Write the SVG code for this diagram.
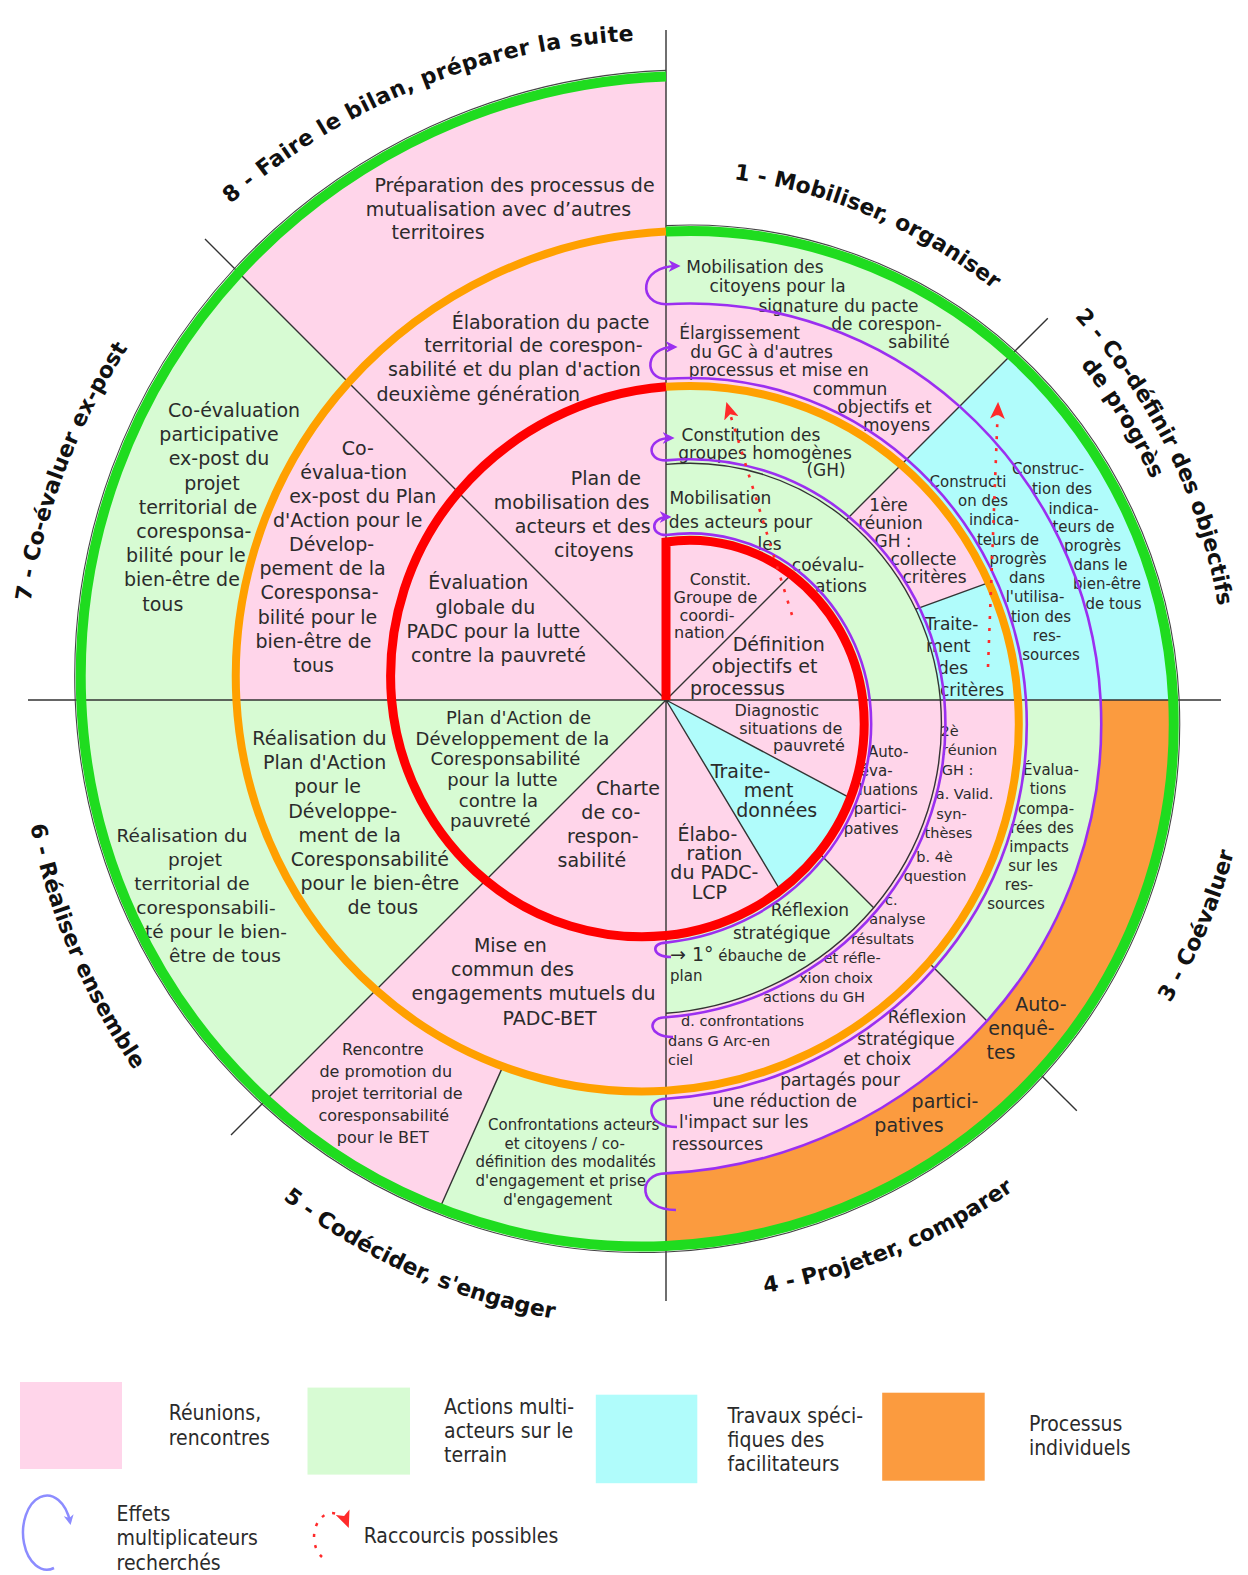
<svg xmlns="http://www.w3.org/2000/svg" width="1248" height="1575" viewBox="0 0 1248 1575">
<style>
.pk{fill:#ffd5ea}.gr{fill:#d7fbd3}.cy{fill:#b0fcfb}.or{fill:#fb9b3f}
.ln{stroke:#333;stroke-width:1.4;fill:none}
.pu{stroke:#9b2ff0;stroke-width:2.6;fill:none}
.rd{stroke:#ff2a2a;stroke-width:2.6;fill:none;stroke-dasharray:3 9}
text{font-family:"DejaVu Sans","Noto Sans",sans-serif;fill:#2b2b2b;text-anchor:middle}
.s19{font-size:19px}.s185{font-size:18.5px}.s18{font-size:18px}.s17{font-size:17px}.s16{font-size:16px}.s15{font-size:15px}.s14{font-size:14.5px}
.st{text-anchor:start}
.lab{font-weight:bold;font-size:22px;fill:#111}
.lg{font-family:"DejaVu Sans Condensed","DejaVu Sans",sans-serif;font-stretch:condensed;font-size:21px;text-anchor:start}
</style>
<defs>
<marker id="pa" viewBox="0 0 10 10" refX="7" refY="5" markerWidth="12" markerHeight="12" markerUnits="userSpaceOnUse" orient="auto"><path d="M0,0 L10,5 L0,10 L3,5 Z" fill="#9b2ff0"/></marker>
<marker id="ra" viewBox="0 0 16 14" refX="14" refY="7" markerWidth="17" markerHeight="15" markerUnits="userSpaceOnUse" orient="auto"><path d="M0,0 L16,7 L0,14 L4,7 Z" fill="#ff2a2a"/></marker>
<marker id="ba" viewBox="0 0 10 10" refX="7" refY="5" markerWidth="10" markerHeight="10" markerUnits="userSpaceOnUse" orient="auto"><path d="M0,0 L10,5 L0,10 L3,5 Z" fill="#8c8cff"/></marker>
<path id="lp8" d="M83.3 390.1 A660 660 0 0 1 869.9 72.3"/>
<path id="lp1" d="M512.5 197.9 A525 525 0 0 1 1133.8 461.6"/>
<path id="lp2a" d="M890.2 186.8 A560 560 0 0 1 1210.3 831.7"/>
<path id="lp2b" d="M833.4 194 A533 533 0 0 1 1193.4 777"/>
<path id="lp3" d="M932.9 1223.9 A588 588 0 0 0 1228.3 528.1"/>
<path id="lp4" d="M484.3 1272.9 A601 601 0 0 0 1198.6 978.4"/>
<path id="lp5" d="M101.2 976.7 A629 629 0 0 0 840.4 1304.3"/>
<path id="lp6" d="M46.3 510.5 A648 648 0 0 0 371.8 1277.4"/>
<path id="lp7" d="M58 909.4 A643 643 0 0 1 354.3 137.6"/>
</defs>
<rect width="1248" height="1575" fill="#fff"/>

<!-- ===== Band 0 ===== -->
<g id="n-plan-mobilisation">
<path class="pk" d="M666 700 L666 542 A167.7 167.7 0 0 1 791.4 574.6 A187.1 187.1 0 0 1 862.8 700 A206.5 206.5 0 0 1 818.9 852.9 A225.9 225.9 0 0 1 666 935.6 A245.3 245.3 0 0 1 485.7 880.3 A264.7 264.7 0 0 1 391.6 700 A284.1 284.1 0 0 1 458.3 492.3 A303.5 303.5 0 0 1 666 386.8 Z"/>
<text class="s19"><tspan x="605.9" y="484.9">Plan de</tspan><tspan x="571.7" y="509">mobilisation des</tspan><tspan x="582.8" y="533.1">acteurs et des</tspan><tspan x="593.8" y="557.2">citoyens</tspan></text>
</g>
<g id="n-evaluation-globale">
<text class="s19"><tspan x="478.3" y="589.4">Évaluation</tspan><tspan x="485.3" y="613.5">globale du</tspan><tspan x="493.4" y="637.6">PADC pour la lutte</tspan><tspan x="498.4" y="661.7">contre la pauvreté</tspan></text>
</g>
<g id="n-plan-action-padc">
<path class="gr" d="M666 700 L485.7 880.3 A264.7 264.7 0 0 1 391.6 700 Z"/>
<text class="s18"><tspan x="518.5" y="724.4">Plan d'Action de</tspan><tspan x="512.4" y="744.5">Développement de la</tspan><tspan x="505.4" y="764.6">Coresponsabilité</tspan><tspan x="502.4" y="785.7">pour la lutte</tspan><tspan x="498.4" y="806.8">contre la</tspan><tspan x="490.3" y="827">pauvreté</tspan></text>
</g>
<g id="n-charte">
<text class="s19"><tspan x="628" y="794.8">Charte</tspan><tspan x="610.9" y="818.5">de co-</tspan><tspan x="602.9" y="843">respon-</tspan><tspan x="591.8" y="867.1">sabilité</tspan></text>
</g>
<g id="n-constit-gc">
<text class="s16"><tspan x="720.4" y="584.6">Constit.</tspan><tspan x="715.4" y="602.7">Groupe de</tspan><tspan x="707" y="620.9">coordi-</tspan><tspan x="699.3" y="638">nation</tspan></text>
</g>
<g id="n-definition">
<text class="s19"><tspan x="778.7" y="650.7">Définition</tspan><tspan x="764.6" y="672.9">objectifs et</tspan><tspan x="737.5" y="695">processus</tspan></text>
</g>
<g id="n-diagnostic">
<text class="s16"><tspan x="776.7" y="716.4">Diagnostic</tspan><tspan x="790.8" y="733.5">situations de</tspan><tspan x="808.9" y="750.5">pauvreté</tspan></text>
</g>
<g id="n-traitement-donnees">
<path class="cy" d="M666 700 L850.4 798.1 A216 216 0 0 1 780.4 890.5 Z"/>
<text class="s19"><tspan x="740.5" y="777.7">Traite-</tspan><tspan x="768.7" y="796.8">ment</tspan><tspan x="776.7" y="816.9">données</tspan></text>
</g>
<g id="n-elaboration-padc">
<text class="s19"><tspan x="707.4" y="840.6">Élabo-</tspan><tspan x="714.4" y="859.7">ration</tspan><tspan x="714.4" y="878.8">du PADC-</tspan><tspan x="709.4" y="898.9">LCP</tspan></text>
</g>

<!-- ===== Band 1 ===== -->
<g id="n-mob-acteurs">
<path class="gr" d="M666 542 A167.7 167.7 0 0 1 791.4 574.6 A187.1 187.1 0 0 1 862.8 700 L940.4 700 A264.7 264.7 0 0 0 846.3 519.7 A245.3 245.3 0 0 0 666 464.4 Z"/>
<text class="s17"><tspan x="720.4" y="504.4">Mobilisation</tspan><tspan x="740.5" y="527.5">des acteurs pour</tspan><tspan x="769.5" y="549.6">les</tspan><tspan x="828" y="570.7">coévalu-</tspan><tspan x="841" y="591.8">ations</tspan></text>
</g>
<g id="n-auto-evaluations">
<path class="pk" d="M862.8 700 A206.5 206.5 0 0 1 818.9 852.9 L873.7 907.7 A284.1 284.1 0 0 0 940.4 700 Z"/>
<text class="s15"><tspan x="888.2" y="756.6">Auto-</tspan><tspan x="876.2" y="775.7">éva-</tspan><tspan x="888.2" y="795">luations</tspan><tspan x="880.2" y="814">partici-</tspan><tspan x="871.2" y="834">patives</tspan></text>
</g>
<g id="n-reflexion-1">
<path class="gr" d="M818.9 852.9 A225.9 225.9 0 0 1 666 935.6 L666 1013.2 A303.5 303.5 0 0 0 873.7 907.7 Z"/>
<text class="s17"><tspan x="809.9" y="916.3">Réflexion</tspan><tspan x="781.7" y="939.4">stratégique</tspan></text>
<text class="st"><tspan x="670" y="960.5" font-size="19">→ 1°</tspan><tspan font-size="15"> ébauche de</tspan><tspan x="670" y="980.6" font-size="15">plan</tspan></text>
</g>
<g id="n-constitution-gh">
<path class="gr" d="M666 464.4 A245.3 245.3 0 0 1 846.3 519.7 L901.2 464.8 A322.9 322.9 0 0 0 666 386.8 Z"/>
<text class="s17"><tspan x="751" y="441.1">Constitution des</tspan><tspan x="765" y="458.5">groupes homogènes</tspan><tspan x="826" y="476.2">(GH)</tspan></text>
</g>
<g id="n-1ere-reunion">
<path class="pk" d="M846.3 519.7 A264.7 264.7 0 0 1 940.4 700 L1018 700 A342.3 342.3 0 0 0 901.2 464.8 Z"/>
<text class="s17"><tspan x="888.5" y="511">1ère</tspan><tspan x="890.5" y="529">réunion</tspan><tspan x="893" y="546.5">GH :</tspan><tspan x="923.5" y="564.5">collecte</tspan><tspan x="934.5" y="582.8">critères</tspan></text>
</g>
<g id="n-traitement-criteres">
<path class="cy" d="M915.8 609.1 A270 270 0 0 1 940.4 700 L1018 700 A343 343 0 0 0 988.7 582.6 Z"/>
<text class="s17 st"><tspan x="925" y="630">Traite-</tspan><tspan x="926" y="652">ment</tspan><tspan x="938" y="674.2">des</tspan><tspan x="940" y="696.3">critères</tspan></text>
</g>
<g id="n-2e-reunion">
<path class="pk" d="M940.4 700 A284.1 284.1 0 0 1 873.7 907.7 A303.5 303.5 0 0 1 666 1013.2 L666 1090.8 A381.1 381.1 0 0 0 928.6 962.6 A361.7 361.7 0 0 0 1018 700 Z"/>
<text class="s14"><tspan x="949.5" y="735.5">2è</tspan><tspan x="969.6" y="754.6">réunion</tspan><tspan x="957.6" y="774.7">GH :</tspan><tspan x="964.6" y="798.8">a. Valid.</tspan><tspan x="951.5" y="818.9">syn-</tspan><tspan x="948.5" y="838">thèses</tspan><tspan x="934.5" y="862.1">b. 4è</tspan><tspan x="935" y="881.2">question</tspan><tspan x="891.3" y="905.3">c.</tspan><tspan x="897.3" y="924.4">analyse</tspan><tspan x="882.5" y="943.5">résultats</tspan><tspan x="852.1" y="962.6">et réfle-</tspan><tspan x="836" y="982.7">xion choix</tspan><tspan x="813.9" y="1001.8">actions du GH</tspan></text>
<text class="s14 st"><tspan x="681" y="1025.9">d. confrontations</tspan><tspan x="668" y="1046">dans G Arc-en</tspan><tspan x="668" y="1065.1">ciel</tspan></text>
</g>
<g id="n-mise-en-commun">
<path class="pk" d="M666 935.6 A245.3 245.3 0 0 1 485.7 880.3 L375.9 990.1 A400.5 400.5 0 0 0 666 1090.8 Z"/>
<text class="s19"><tspan x="510.4" y="952.1">Mise en</tspan><tspan x="512.4" y="976.3">commun des</tspan><tspan x="533.5" y="1000.4">engagements mutuels du</tspan><tspan x="549.6" y="1024.5">PADC-BET</tspan></text>
</g>
<g id="n-realisation-plan">
<path class="gr" d="M485.7 880.3 A264.7 264.7 0 0 1 391.6 700 L236.4 700 A419.9 419.9 0 0 0 375.9 990.1 Z"/>
<text class="s19"><tspan x="319.5" y="745.1">Réalisation du</tspan><tspan x="324.6" y="769.2">Plan d'Action</tspan><tspan x="327.6" y="793.4">pour le</tspan><tspan x="342.6" y="817.5">Développe-</tspan><tspan x="349.7" y="841.6">ment de la</tspan><tspan x="369.8" y="865.7">Coresponsabilité</tspan><tspan x="379.8" y="889.8">pour le bien-être</tspan><tspan x="382.8" y="914">de tous</tspan></text>
</g>
<g id="n-coevaluation-plan">
<path class="pk" d="M391.6 700 A284.1 284.1 0 0 1 458.3 492.3 A303.5 303.5 0 0 1 666 386.8 L666 231.6 A458.7 458.7 0 0 0 348.5 382.5 A439.3 439.3 0 0 0 236.4 700 Z"/>
<text class="s19"><tspan x="357.7" y="454.7">Co-</tspan><tspan x="353.7" y="478.9">évalua-tion</tspan><tspan x="362.7" y="503">ex-post du Plan</tspan><tspan x="347.7" y="527.1">d'Action pour le</tspan><tspan x="331.6" y="551.2">Dévelop-</tspan><tspan x="322.5" y="575.3">pement de la</tspan><tspan x="319.5" y="599.4">Coresponsa-</tspan><tspan x="317.5" y="623.5">bilité pour le</tspan><tspan x="313.5" y="647.7">bien-être de</tspan><tspan x="313.5" y="671.8">tous</tspan></text>
</g>
<g id="n-elaboration-pacte">
<text class="s19"><tspan x="550.6" y="329.1">Élaboration du pacte</tspan><tspan x="533.5" y="352.3">territorial de corespon-</tspan><tspan x="514.5" y="376.4">sabilité et du plan d'action</tspan><tspan x="478.3" y="400.5">deuxième génération</tspan></text>
</g>

<!-- ===== Band 2 ===== -->
<g id="n-elargissement">
<path class="pk" d="M666 386.8 A322.9 322.9 0 0 1 901.2 464.8 L959.6 406.4 A405.5 405.5 0 0 0 666 304.2 Z"/>
<text class="s17"><tspan x="739.5" y="338.6">Élargissement</tspan><tspan x="761.6" y="357.7">du GC à d'autres</tspan><tspan x="778.7" y="375.8">processus et mise en</tspan><tspan x="850" y="394.9">commun</tspan><tspan x="884.5" y="413">objectifs et</tspan><tspan x="896.5" y="431">moyens</tspan></text>
</g>
<g id="n-indicateurs-ressources">
<path class="cy" d="M901.2 464.8 A342.3 342.3 0 0 1 1018 700 L1100.6 700 A424.9 424.9 0 0 0 959.6 406.4 Z"/>
<text class="s15"><tspan x="968" y="486.8">Constructi</tspan><tspan x="983" y="506">on des</tspan><tspan x="994" y="525">indica-</tspan><tspan x="1008" y="544.5">teurs de</tspan><tspan x="1018" y="563.5">progrès</tspan><tspan x="1027" y="583">dans</tspan><tspan x="1035" y="602">l'utilisa-</tspan><tspan x="1041" y="621.5">tion des</tspan><tspan x="1047" y="640.8">res-</tspan><tspan x="1051" y="660.2">sources</tspan></text>
</g>
<g id="n-evaluations-comparees">
<path class="gr" d="M1018 700 A361.7 361.7 0 0 1 928.6 962.6 L987 1021 A444.3 444.3 0 0 0 1100.6 700 Z"/>
<text class="s15"><tspan x="1051" y="774.7">Évalua-</tspan><tspan x="1048" y="793.8">tions</tspan><tspan x="1046" y="813.9">compa-</tspan><tspan x="1042" y="833">rées des</tspan><tspan x="1039" y="852">impacts</tspan><tspan x="1033" y="871.1">sur les</tspan><tspan x="1019" y="890.2">res-</tspan><tspan x="1016" y="909.3">sources</tspan></text>
</g>
<g id="n-reflexion-2">
<path class="pk" d="M928.6 962.6 A381.1 381.1 0 0 1 666 1090.8 L666 1173.4 A463.7 463.7 0 0 0 987 1021 Z"/>
<text class="s17"><tspan x="927" y="1023.4">Réflexion</tspan><tspan x="906" y="1044.5">stratégique</tspan><tspan x="877.2" y="1065.1">et choix</tspan><tspan x="840" y="1086.2">partagés pour</tspan><tspan x="784.7" y="1107.3">une réduction de</tspan><tspan x="743.6" y="1128.4">l'impact sur les</tspan><tspan x="717.4" y="1149.5">ressources</tspan></text>
</g>
<g id="n-mob-citoyens">
<path class="gr" d="M666 304.2 A405.5 405.5 0 0 1 959.6 406.4 L1010.9 355.1 A478.1 478.1 0 0 0 666 231.6 Z"/>
<text class="s17"><tspan x="755" y="273.3">Mobilisation des</tspan><tspan x="777.5" y="292.4">citoyens pour la</tspan><tspan x="838.5" y="311.5">signature du pacte</tspan><tspan x="886.5" y="329.5">de corespon-</tspan><tspan x="919" y="347.6">sabilité</tspan></text>
</g>
<g id="n-indicateurs-bienetre">
<path class="cy" d="M959.6 406.4 A424.9 424.9 0 0 1 1100.6 700 L1173.2 700 A497.5 497.5 0 0 0 1010.9 355.1 Z"/>
<text class="s15"><tspan x="1048" y="473.5">Construc-</tspan><tspan x="1062" y="493.5">tion des</tspan><tspan x="1073.5" y="513.5">indica-</tspan><tspan x="1083.5" y="532">teurs de</tspan><tspan x="1092.5" y="551">progrès</tspan><tspan x="1100.5" y="570">dans le</tspan><tspan x="1107" y="589">bien-être</tspan><tspan x="1113.5" y="608.5">de tous</tspan></text>
</g>
<g id="n-auto-enquetes">
<path class="or" d="M1100.6 700 A444.3 444.3 0 0 1 987 1021 A463.7 463.7 0 0 1 666 1173.4 L666 1246 A536.3 536.3 0 0 0 1038.4 1072.4 A516.9 516.9 0 0 0 1173.2 700 Z"/>
<text class="s19"><tspan x="1041" y="1010.5">Auto-</tspan><tspan x="1021.5" y="1034.6">enquê-</tspan><tspan x="1001" y="1058.7">tes</tspan><tspan x="945" y="1107.9">partici-</tspan><tspan x="909" y="1132">patives</tspan></text>
</g>
<g id="n-confrontations">
<path class="gr" d="M666 1090.8 A400.5 400.5 0 0 1 502.9 1066.4 L439.8 1208.2 A555.7 555.7 0 0 0 666 1246 Z"/>
<text class="s15"><tspan x="573.7" y="1129.7">Confrontations acteurs</tspan><tspan x="564.7" y="1148.7">et citoyens / co-</tspan><tspan x="565.7" y="1166.8">définition des modalités</tspan><tspan x="560.7" y="1185.7">d'engagement et prise</tspan><tspan x="557.7" y="1204.8">d'engagement</tspan></text>
</g>
<g id="n-rencontre">
<path class="pk" d="M502.9 1066.4 A400.5 400.5 0 0 1 375.9 990.1 L266.2 1099.8 A555.7 555.7 0 0 0 439.8 1208.2 Z"/>
<text class="s16"><tspan x="382.8" y="1054.6">Rencontre</tspan><tspan x="385.8" y="1076.7">de promotion du</tspan><tspan x="386.8" y="1098.8">projet territorial de</tspan><tspan x="383.8" y="1120.9">coresponsabilité</tspan><tspan x="382.8" y="1143">pour le BET</tspan></text>
</g>
<g id="n-realisation-projet">
<path class="gr" d="M375.9 990.1 A419.9 419.9 0 0 1 236.4 700 A439.3 439.3 0 0 1 348.5 382.5 L238.8 272.8 A594.5 594.5 0 0 0 81.2 700 A575.1 575.1 0 0 0 266.2 1099.8 Z"/>
<text class="s185"><tspan x="182" y="841.6">Réalisation du</tspan><tspan x="195" y="865.7">projet</tspan><tspan x="192" y="889.8">territorial de</tspan><tspan x="206" y="914">coresponsabili-</tspan><tspan x="216" y="938.1">té pour le bien-</tspan><tspan x="225" y="962.2">être de tous</tspan></text>
</g>
<g id="n-coevaluation-projet">
<text class="s19"><tspan x="234.1" y="416.6">Co-évaluation</tspan><tspan x="219" y="440.7">participative</tspan><tspan x="219" y="464.8">ex-post du</tspan><tspan x="212" y="489.9">projet</tspan><tspan x="198" y="514">territorial de</tspan><tspan x="193.9" y="538.1">coresponsa-</tspan><tspan x="185.9" y="562.3">bilité pour le</tspan><tspan x="181.9" y="586.4">bien-être de</tspan><tspan x="162.8" y="610.5">tous</tspan></text>
</g>
<g id="n-preparation">
<path class="pk" d="M348.5 382.5 A458.7 458.7 0 0 1 666 231.6 L666 76.4 A613.9 613.9 0 0 0 238.8 272.8 Z"/>
<text class="s19"><tspan x="514.5" y="191.5">Préparation des processus de</tspan><tspan x="498.4" y="215.6">mutualisation avec d’autres</tspan><tspan x="438.1" y="238.7">territoires</tspan></text>
</g>

<!-- ===== Connectors / structure lines ===== -->
<g id="connectors">
<path class="ln" d="M666 30 L666 1301 M28 700 L1221 700 M666 700 L205 239 M666 700 L231 1135 M666 700 L791.4 574.6 M846.3 519.7 L1047.8 318.2 M818.9 852.9 L873.7 907.7 M928.6 962.6 L987 1021 M1038.4 1072.4 L1076.8 1110.8 M915.8 609.1 L988.7 582.6 M666 700 L850.4 798.1 M666 700 L780.4 890.5 M502.9 1066.4 L439.8 1208.2"/>
<path class="ln" d="M666 464.4 A245.3 245.3 0 0 1 846.3 519.7 A264.7 264.7 0 0 1 940.4 700 A284.1 284.1 0 0 1 873.7 907.7 A303.5 303.5 0 0 1 666 1013.2"/>
<path stroke="#444" stroke-width="1.1" fill="none" d="M666 225.6 A484.1 484.1 0 0 1 1015.2 350.8 A503.5 503.5 0 0 1 1179.2 700 A522.9 522.9 0 0 1 1042.6 1076.6 A542.3 542.3 0 0 1 666 1252 A561.7 561.7 0 0 1 262 1104 A581.1 581.1 0 0 1 75.2 700 A600.5 600.5 0 0 1 234.5 268.5 A619.9 619.9 0 0 1 666 70.4"/>
<!-- purple multiplier spirals -->
<path class="pu" d="M666 535 A174.7 174.7 0 0 1 796.4 569.6 A194.1 194.1 0 0 1 869.8 700 A213.5 213.5 0 0 1 823.8 857.8 A232.9 232.9 0 0 1 666 942.6"/>
<path class="pu" d="M666 460.4 A249.3 249.3 0 0 1 849.1 516.9 A268.7 268.7 0 0 1 944.4 700 A288.1 288.1 0 0 1 876.6 910.6 A307.5 307.5 0 0 1 666 1017.2"/>
<path class="pu" d="M666 378.8 A330.9 330.9 0 0 1 906.8 459.2 A350.3 350.3 0 0 1 1026 700 A369.7 369.7 0 0 1 934.3 968.3 A389.1 389.1 0 0 1 666 1098.8"/>
<path class="pu" d="M666 304.2 A405.5 405.5 0 0 1 959.6 406.4 A424.9 424.9 0 0 1 1100.6 700 A444.3 444.3 0 0 1 987 1021 A463.7 463.7 0 0 1 666 1173.4"/>
<path class="pu" marker-end="url(#pa)" d="M666 535 C650 535 650 517 668 517"/>
<path class="pu" marker-end="url(#pa)" d="M666 460.4 C646 460.4 646 438 671 438"/>
<path class="pu" marker-end="url(#pa)" d="M666 378.8 C644 378.8 644 347 674 347"/>
<path class="pu" marker-end="url(#pa)" d="M666 304.2 C638 304.2 638 266 677 266"/>
<path class="pu" d="M666 942.6 C651 942.6 651 957 671 957"/>
<path class="pu" d="M666 1017.2 C647 1017.2 647 1037 673 1037"/>
<path class="pu" d="M666 1098.8 C645 1098.8 645 1127 677 1127"/>
<path class="pu" d="M666 1173.4 C637 1173.4 637 1210 676 1210"/>
<!-- main spiral -->
<path stroke="#ff0000" stroke-width="9" fill="none" d="M666 700 L666 542 A167.7 167.7 0 0 1 791.4 574.6 A187.1 187.1 0 0 1 862.8 700 A206.5 206.5 0 0 1 818.9 852.9 A225.9 225.9 0 0 1 666 935.6 A245.3 245.3 0 0 1 485.7 880.3 A264.7 264.7 0 0 1 391.6 700 A284.1 284.1 0 0 1 458.3 492.3 A303.5 303.5 0 0 1 666 386.8"/>
<path stroke="#ffa000" stroke-width="8" fill="none" d="M666 386.8 A322.9 322.9 0 0 1 901.2 464.8 A342.3 342.3 0 0 1 1018 700 A361.7 361.7 0 0 1 928.6 962.6 A381.1 381.1 0 0 1 666 1090.8 A400.5 400.5 0 0 1 375.9 990.1 A419.9 419.9 0 0 1 236.4 700 A439.3 439.3 0 0 1 348.5 382.5 A458.7 458.7 0 0 1 666 231.6"/>
<path stroke="#1fdc1f" stroke-width="10" fill="none" d="M666 231.6 A478.1 478.1 0 0 1 1010.9 355.1 A497.5 497.5 0 0 1 1173.2 700 A516.9 516.9 0 0 1 1038.4 1072.4 A536.3 536.3 0 0 1 666 1246 A555.7 555.7 0 0 1 266.2 1099.8 A575.1 575.1 0 0 1 81.2 700 A594.5 594.5 0 0 1 238.8 272.8 A613.9 613.9 0 0 1 666 76.4"/>
<!-- shortcuts -->
<path class="rd" marker-end="url(#ra)" d="M792 615 L727 404"/>
<path class="rd" marker-end="url(#ra)" d="M988 667 L998 404"/>
</g>

<!-- ===== Sector titles ===== -->
<g id="sector-labels">
<text class="lab" letter-spacing="0.5"><textPath href="#lp8" startOffset="50%">8 - Faire le bilan, préparer la suite</textPath></text>
<text class="lab"><textPath href="#lp1" startOffset="50%">1 - Mobiliser, organiser</textPath></text>
<text class="lab"><textPath href="#lp2a" startOffset="50%">2 - Co-définir des objectifs</textPath></text>
<text class="lab"><textPath href="#lp2b" startOffset="50%">de progrès</textPath></text>
<text class="lab"><textPath href="#lp3" startOffset="50%">3 - Coévaluer</textPath></text>
<text class="lab"><textPath href="#lp4" startOffset="50%">4 - Projeter, comparer</textPath></text>
<text class="lab"><textPath href="#lp5" startOffset="50%">5 - Codécider, s'engager</textPath></text>
<text class="lab"><textPath href="#lp6" startOffset="50%">6 - Réaliser ensemble</textPath></text>
<text class="lab"><textPath href="#lp7" startOffset="50%">7 - Co-évaluer ex-post</textPath></text>
</g>

<!-- ===== Legend ===== -->
<g id="legend">
<rect x="20" y="1382" width="102" height="87" class="pk"/>
<rect x="307.5" y="1387.6" width="102.5" height="87" class="gr"/>
<rect x="595.8" y="1394.7" width="101.5" height="88.5" class="cy"/>
<rect x="882.2" y="1392.7" width="102.5" height="88" class="or"/>
<text class="lg"><tspan x="168.8" y="1420">Réunions,</tspan><tspan x="168.8" y="1445">rencontres</tspan></text>
<text class="lg"><tspan x="444.1" y="1413.7">Actions multi-</tspan><tspan x="444.1" y="1437.8">acteurs sur le</tspan><tspan x="444.1" y="1461.9">terrain</tspan></text>
<text class="lg"><tspan x="727.5" y="1422.8">Travaux spéci-</tspan><tspan x="727.5" y="1446.9">fiques des</tspan><tspan x="727.5" y="1471">facilitateurs</tspan></text>
<text class="lg"><tspan x="1028.9" y="1430.8">Processus</tspan><tspan x="1028.9" y="1455">individuels</tspan></text>
<path d="M54 1568 A24 37 0 1 1 70 1522" stroke="#8c8cff" stroke-width="2.5" fill="none" marker-end="url(#ba)"/>
<text class="lg"><tspan x="116.6" y="1521.2">Effets</tspan><tspan x="116.6" y="1545.4">multiplicateurs</tspan><tspan x="116.6" y="1569.5">recherchés</tspan></text>
<path d="M322 1557 A18 24 0 1 1 348 1526" stroke="#ff2a2a" stroke-width="2.5" fill="none" stroke-dasharray="3 8" marker-end="url(#ra)"/>
<text class="lg"><tspan x="363.7" y="1543.3">Raccourcis possibles</tspan></text>
</g>
</svg>
